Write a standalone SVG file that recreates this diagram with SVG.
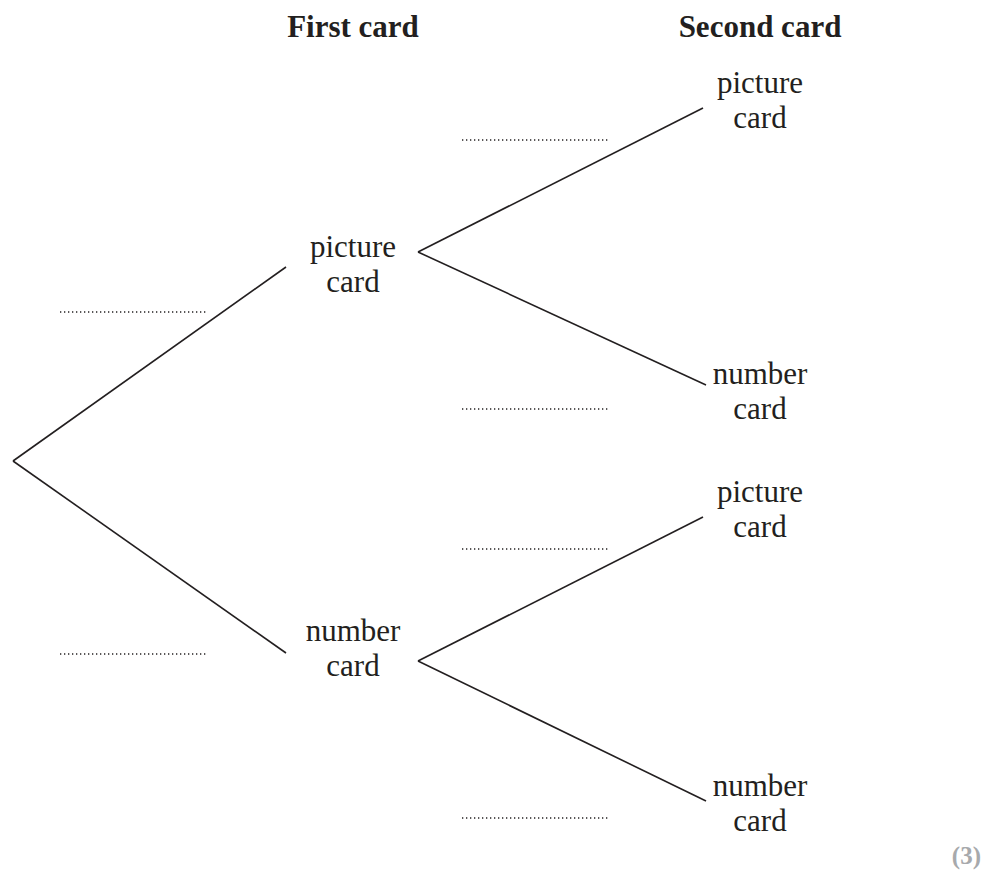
<svg xmlns="http://www.w3.org/2000/svg" width="995" height="886" viewBox="0 0 995 886">
<style>
text{font-family:"Liberation Serif","Times New Roman",serif;fill:#231f20;text-anchor:middle}
.h{font-weight:bold;font-size:31px}
.n{font-size:31px}
.e{stroke:#231f20;stroke-width:1.6;fill:none}
.d{stroke:#231f20;stroke-width:1.4;stroke-dasharray:1.3 2.7;fill:none}
.m{font-weight:bold;font-size:25px;fill:#a7a9ac;text-anchor:end}
</style>
<rect width="995" height="886" fill="#fff"/>
<g id="headings">
<text class="h" x="353" y="37">First card</text>
<text class="h" x="760" y="37">Second card</text>
</g>
<g id="connectors">
<line class="e" x1="13" y1="461" x2="286" y2="267"/>
<line class="e" x1="13" y1="461" x2="286" y2="653"/>
<line class="e" x1="418" y1="252" x2="703" y2="108"/>
<line class="e" x1="418" y1="252" x2="706" y2="385"/>
<line class="e" x1="418" y1="661" x2="703" y2="517"/>
<line class="e" x1="418" y1="661" x2="706" y2="801"/>
</g>
<g id="blanks">
<line class="d" x1="60" y1="312" x2="206" y2="312"/>
<line class="d" x1="60" y1="654" x2="206" y2="654"/>
<line class="d" x1="462" y1="140" x2="610" y2="140"/>
<line class="d" x1="462" y1="409" x2="610" y2="409"/>
<line class="d" x1="462" y1="549" x2="610" y2="549"/>
<line class="d" x1="462" y1="818" x2="610" y2="818"/>
</g>
<g id="first-picture"><text class="n" x="353" y="257">picture</text><text class="n" x="353" y="292">card</text></g>
<g id="first-number"><text class="n" x="353" y="641">number</text><text class="n" x="353" y="676">card</text></g>
<g id="second-picture-1"><text class="n" x="760" y="93">picture</text><text class="n" x="760" y="128">card</text></g>
<g id="second-number-1"><text class="n" x="760" y="384">number</text><text class="n" x="760" y="419">card</text></g>
<g id="second-picture-2"><text class="n" x="760" y="502">picture</text><text class="n" x="760" y="537">card</text></g>
<g id="second-number-2"><text class="n" x="760" y="796">number</text><text class="n" x="760" y="831">card</text></g>
<text class="m" x="981" y="864">(3)</text>
</svg>
